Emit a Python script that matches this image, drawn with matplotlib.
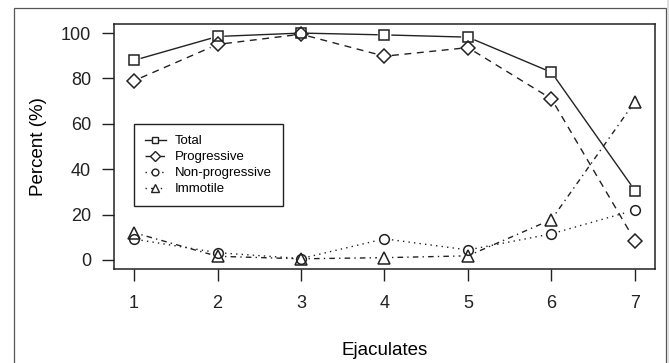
import matplotlib
matplotlib.use("Agg")
import matplotlib.pyplot as plt
import numpy as np
from matplotlib.patches import Rectangle
from matplotlib.lines import Line2D

plt.rcParams['font.family'] = ['Liberation Sans', 'DejaVu Sans']

ejaculates = [1, 2, 3, 4, 5, 6, 7]
total = [88, 98.5, 100, 99.2, 98.2, 82.7, 30.6]
progressive = [79, 95, 99.5, 89.8, 93.6, 71, 8.5]
non_progressive = [9.2, 3.2, 0.6, 9.3, 4.4, 11.5, 22]
immotile = [12, 1.6, 0.5, 1.0, 1.8, 17.8, 69.8]
series_names = ["Total", "Progressive", "Non-progressive", "Immotile"]

W, H = 669, 363
fig = plt.figure(figsize=(W / 100, H / 100), dpi=100)

# outer frame
fig.patches.append(Rectangle((14 / W, -0.05), (666 - 14) / W, 1.05 - 8 / H,
                             transform=fig.transFigure, fill=False,
                             edgecolor='#555555', linewidth=0.9))
fig.patches.append(Rectangle((667 / W, 0), 2 / W, 1, transform=fig.transFigure,
                             facecolor='#dddddd', edgecolor='none'))

ax = fig.add_axes([114 / W, 1 - 269 / H, (655 - 114) / W, (269 - 24) / H])
ax.set_xlim(0.76, 7.24)
ax.set_ylim(-4, 104)
for s in ax.spines.values():
    s.set_linewidth(1.1)
    s.set_color('#222222')

ax.set_xticks(ejaculates)
ax.set_yticks([0, 20, 40, 60, 80, 100])
ax.tick_params(axis='both', length=8.5, width=1.0, pad=8, labelsize=13, colors='#222222')
ax.tick_params(axis='x', pad=10)
ax.set_xlabel("Ejaculates", fontsize=13.5, labelpad=22)
ax.set_ylabel("Percent (%)", fontsize=13.5, labelpad=10)

styles = [
    dict(dashes=None, marker='s', ms=7),
    dict(dashes=(5, 4), marker='D', ms=7.5),
    dict(dashes=(1, 3), marker='o', ms=7),
    dict(dashes=(1, 3, 4, 3), marker='^', ms=8),
]
data = [total, progressive, non_progressive, immotile]

gap = 7.5  # pixels
trans = ax.transData
inv = trans.inverted()
handles = []
for vals, st, name in zip(data, styles, series_names):
    pts = trans.transform(np.column_stack([ejaculates, vals]))
    for i in range(len(pts) - 1):
        p0, p1 = pts[i], pts[i + 1]
        d = p1 - p0
        L = np.hypot(*d)
        if L <= 2 * gap:
            continue
        u = d / L
        a = inv.transform(p0 + u * gap)
        b = inv.transform(p1 - u * gap)
        ln = Line2D([a[0], b[0]], [a[1], b[1]], color='#222222', linewidth=1.0)
        if st['dashes'] is not None:
            ln.set_dashes(st['dashes'])
        ax.add_line(ln)
    ax.plot(ejaculates, vals, linestyle='none', marker=st['marker'], ms=st['ms'],
            mfc='none', mec='#222222', mew=1.1, clip_on=False)
    h = Line2D([], [], color='#222222', linewidth=1.0, marker=st['marker'],
               ms=st['ms'] * 0.7, mfc='white', mec='#222222', mew=1.0)
    if st['dashes'] is not None:
        h.set_dashes(st['dashes'])
    handles.append(h)

leg = ax.legend(handles, series_names, loc='upper left', bbox_to_anchor=(0.037, 0.592),
                borderaxespad=0, fontsize=9.5, fancybox=False, framealpha=1,
                edgecolor='#222222', handlelength=1.55, handletextpad=0.7,
                labelspacing=0.28, borderpad=0.85)
leg.get_frame().set_linewidth(1.0)

fig.savefig("out.png", dpi=100)
